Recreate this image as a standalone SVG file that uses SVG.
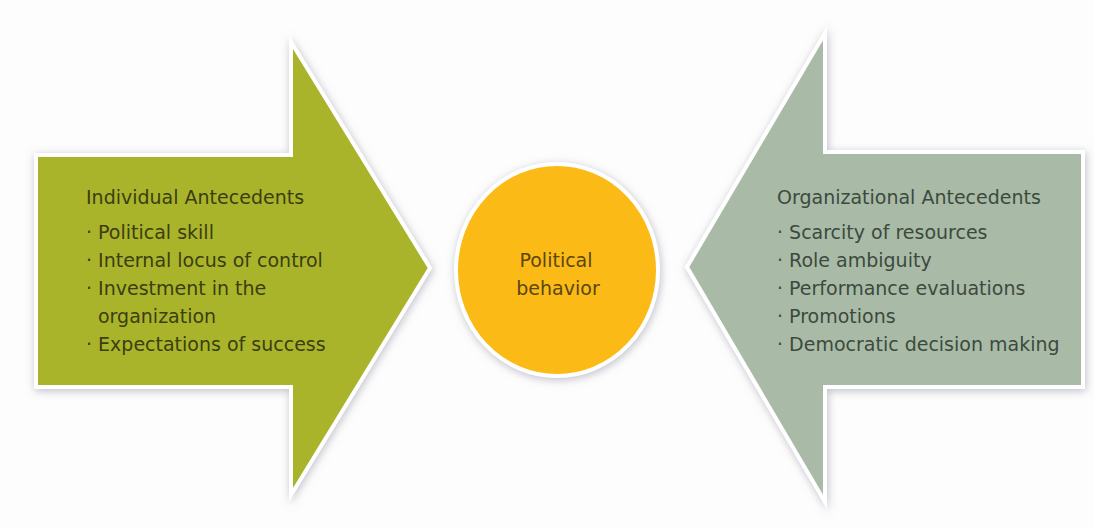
<svg xmlns="http://www.w3.org/2000/svg" width="1094" height="529" viewBox="0 0 1094 529">
  <defs>
    <filter id="shadow" x="-10%" y="-10%" width="120%" height="120%">
      <feDropShadow dx="1" dy="2" stdDeviation="4" flood-color="#8a8aa0" flood-opacity="0.55"/>
    </filter>
    <style>
      .shape { stroke: #ffffff; stroke-width: 4; stroke-linejoin: miter; filter: url(#shadow); }
      .txt { font-family: "DejaVu Sans", Verdana, sans-serif; font-size: 19px; }
      .left { fill: #3a3e12; }
      .right { fill: #3c4a3e; }
      .center { fill: #5a4710; text-anchor: middle; }
    </style>
  </defs>
  <rect x="0" y="0" width="1094" height="529" fill="#fdfdfd"/>

  <g id="individual-antecedents">
    <polygon class="shape" fill="#aab42a" points="36,155 291,155 291,42 430,268 291,495 291,387 36,387"/>
    <text class="txt left" x="86" y="204">Individual Antecedents</text>
    <text class="txt left" x="86" y="239">· Political skill</text>
    <text class="txt left" x="86" y="267">· Internal locus of control</text>
    <text class="txt left" x="86" y="295">· Investment in the</text>
    <text class="txt left" x="98" y="323">organization</text>
    <text class="txt left" x="86" y="351">· Expectations of success</text>
  </g>

  <g id="organizational-antecedents">
    <polygon class="shape" fill="#a9bba7" points="1083,152 825,152 825,33 687,267 825,502 825,387 1083,387"/>
    <text class="txt right" x="777" y="204">Organizational Antecedents</text>
    <text class="txt right" x="777" y="239">· Scarcity of resources</text>
    <text class="txt right" x="777" y="267">· Role ambiguity</text>
    <text class="txt right" x="777" y="295">· Performance evaluations</text>
    <text class="txt right" x="777" y="323">· Promotions</text>
    <text class="txt right" x="777" y="351">· Democratic decision making</text>
  </g>

  <g id="political-behavior">
    <ellipse class="shape" fill="#fbba14" cx="557" cy="270" rx="101" ry="106"/>
    <text class="txt center" x="556" y="267">Political</text>
    <text class="txt center" x="558" y="295">behavior</text>
  </g>

  <g id="connectors"/>
</svg>
